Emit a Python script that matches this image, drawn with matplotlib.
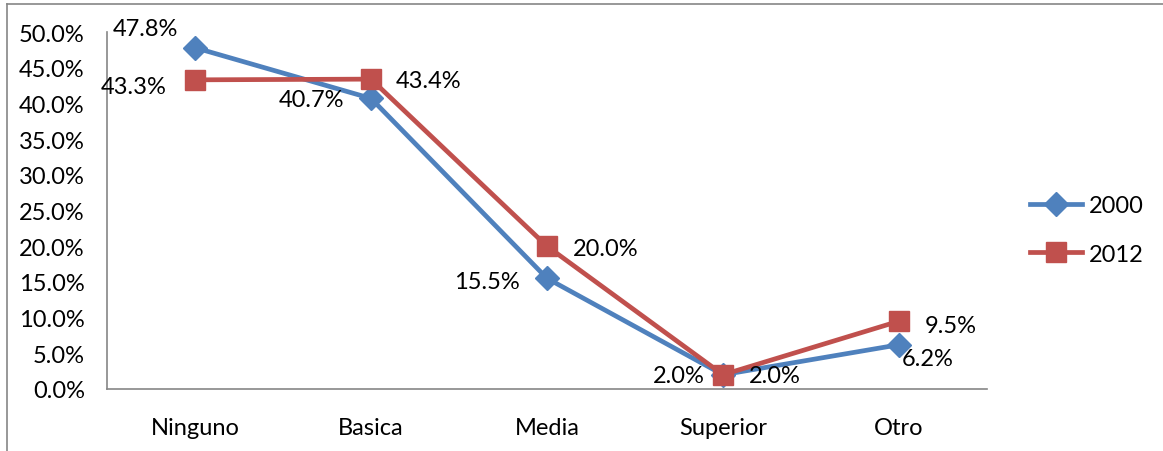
import matplotlib
matplotlib.use("Agg")
import matplotlib.pyplot as plt
from matplotlib.lines import Line2D
from matplotlib.ticker import PercentFormatter

categories = ["Ninguno", "Basica", "Media", "Superior", "Otro"]
series_names = ["2000", "2012"]
values_2000 = [47.8, 40.7, 15.5, 2.0, 6.2]
values_2012 = [43.3, 43.4, 20.0, 2.0, 9.5]
y_ticks = [0, 5, 10, 15, 20, 25, 30, 35, 40, 45, 50]

BLUE = "#4F81BD"
RED = "#C0504D"
GREY = "#868686"

plt.rcParams["font.family"] = ["Lato", "DejaVu Sans"]
FS = 17

fig = plt.figure(figsize=(11.63, 4.52), dpi=100)
W, H = 1163, 452

# outer chart frame (left and top edges)
fig.add_artist(Line2D([7 / W, 7 / W], [0, 1 - 5 / H], color=GREY, lw=1.2,
                      transform=fig.transFigure))
fig.add_artist(Line2D([7 / W, 1], [1 - 5 / H, 1 - 5 / H], color=GREY, lw=1.2,
                      transform=fig.transFigure))

ax = fig.add_axes([107 / W, (H - 390) / H, (987 - 107) / W, (390 - 33) / H])
x = list(range(len(categories)))

ax.plot(x, values_2000, color=BLUE, lw=3.4, marker="D", markersize=12,
        label=series_names[0], zorder=3, solid_capstyle="round")
ax.plot(x, values_2012, color=RED, lw=3.4, marker="s", markersize=14,
        label=series_names[1], zorder=3, solid_capstyle="round")

ax.set_xlim(-0.5, len(categories) - 0.5)
ax.set_ylim(0, 50)
ax.set_yticks(y_ticks)
ax.yaxis.set_major_formatter(PercentFormatter(decimals=1))
ax.set_xticks(x)
ax.set_xticklabels(categories)
ax.tick_params(axis="both", length=0, labelsize=FS, colors="black")
ax.tick_params(axis="y", pad=16)
ax.tick_params(axis="x", pad=20)
for side in ("top", "right"):
    ax.spines[side].set_visible(False)
for side in ("left", "bottom"):
    ax.spines[side].set_color(GREY)
    ax.spines[side].set_linewidth(1.2)

# data labels: (dx, dy) offsets in pixels and horizontal alignment
offsets_2000 = [((-50, 19), "center"), ((-27, -1), "right"), ((-27, -3), "right"),
                ((-18, -1), "right"), ((29, -14), "center")]
offsets_2012 = [((-28, -7), "right"), ((25, -1), "left"), ((26, -2), "left"),
                ((26, -1), "left"), ((26, -4), "left")]

for vals, offs in ((values_2000, offsets_2000), (values_2012, offsets_2012)):
    for xi, v, (d, ha) in zip(x, vals, offs):
        ax.annotate(f"{v:.1f}%", (xi, v), xytext=d, textcoords="offset pixels",
                    ha=ha, va="center", fontsize=FS, color="black", zorder=4)

handles = [Line2D([], [], color=BLUE, lw=3.4, marker="D", markersize=12),
           Line2D([], [], color=RED, lw=3.4, marker="s", markersize=14)]
fig.legend(handles, series_names, loc="center left",
           bbox_to_anchor=(1018 / W, 1 - 231 / H), frameon=False, fontsize=FS,
           handlelength=2.2, handletextpad=0.3, labelspacing=1.15, borderpad=0)

fig.savefig("out.png", dpi=100)
